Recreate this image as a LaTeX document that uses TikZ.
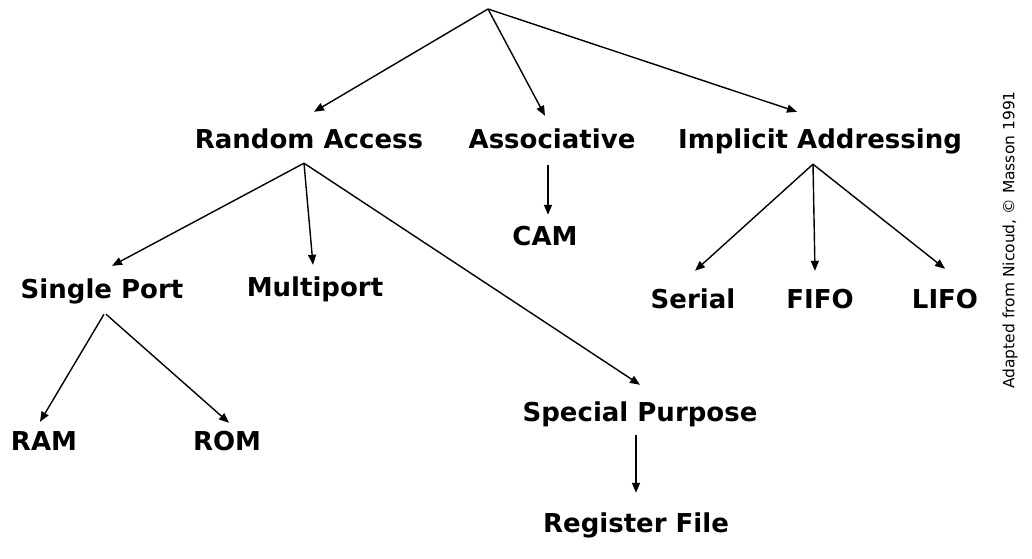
\documentclass[tikz,border=0pt]{standalone}
\usepackage{fontspec}
\setmainfont{DejaVu Sans}
\usetikzlibrary{arrows.meta}
\tikzset{
    lbl/.style={font=\fontsize{26}{30}\selectfont\bfseries, inner sep=0pt,
        text height=19pt, text depth=0pt, minimum height=54pt},
    arr/.style={-{Triangle[length=10pt,width=8pt]}, line width=1.4pt},
}
\begin{document}
\begin{tikzpicture}[x=1pt,y=-1pt]
        \useasboundingbox (0,0) rectangle (1032,558);
        %% Top level
        \coordinate (root) at (488,9);
        \node[lbl] (ra) at (309,139) {Random Access};
        \node[lbl] (as) at (552,139) {Associative};
        \node[lbl] (ia) at (820,139) {Implicit Addressing};
        %% Second level
        \node[lbl] (sp) at (102,289) {Single Port};
        \node[lbl] (mp) at (315,287) {Multiport};
        \node[lbl] (spp) at (640,412) {Special Purpose};
        \node[lbl] (cam) at (545,236) {CAM};
        \node[lbl] (ser) at (693,299) {Serial};
        \node[lbl] (fifo) at (820,299) {FIFO};
        \node[lbl] (lifo) at (945,299) {LIFO};
        %% Third level
        \node[lbl] (ram) at (44,441) {RAM};
        \node[lbl] (rom) at (227,441) {ROM};
        \node[lbl] (reg) at (636,523) {Register File};
        %% Arrows
        \draw[arr] (root) -- ([xshift=5]ra.north);
        \draw[arr] (root) -- ([xshift=-7,yshift=-4]as.north);
        \draw[arr] (root) -- ([xshift=-23]ia.north);
        \draw[arr] ([xshift=-5,yshift=3]ra.south) -- ([xshift=10,yshift=-4]sp.north);
        \draw[arr] ([xshift=-5,yshift=3]ra.south) -- ([xshift=-2,yshift=-5]mp.north);
        \draw[arr] ([xshift=-5,yshift=3]ra.south) -- (spp.north);
        \draw[arr] ([xshift=-4,yshift=1]as.south) -- ([xshift=3,yshift=-6]cam.north);
        \draw[arr] ([xshift=-7,yshift=2]ia.south) -- ([xshift=2,yshift=1]ser.north);
        \draw[arr] ([xshift=-7,yshift=2]ia.south) -- ([xshift=-5,yshift=1]fifo.north);
        \draw[arr] ([xshift=-7,yshift=2]ia.south) -- ([yshift=3]lifo.north);
        \draw[arr] ([xshift=2,yshift=2]sp.south) -- ([xshift=-4,yshift=-8]ram.north);
        \draw[arr] ([xshift=4,yshift=2]sp.south) -- ([xshift=2,yshift=-9]rom.north);
        \draw[arr] ([xshift=-4,yshift=4]spp.south) -- ([yshift=3]reg.north);
        %% Credit
        \node[rotate=90, inner sep=0pt, font=\fontsize{15.5}{18}\selectfont] (credit) at (1010,240) {Adapted from Nicoud, \copyright\ Masson 1991};
    \end{tikzpicture}
\end{document}
